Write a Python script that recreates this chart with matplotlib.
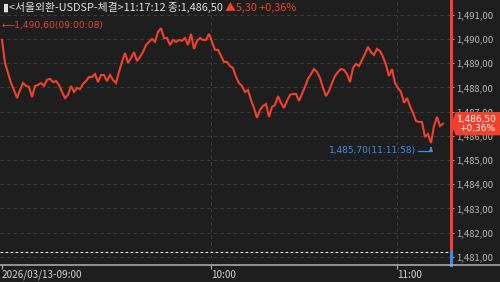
import numpy as np
import matplotlib
matplotlib.use("Agg")
import matplotlib.pyplot as plt
from matplotlib.lines import Line2D
from matplotlib.patches import Polygon

plt.rcParams['font.family'] = ['Noto Sans CJK KR', 'DejaVu Sans']

# USD/KRW ticks, sampled along the session (09:00 -> 11:17:12)
price = [1489.96, 1489.01, 1488.60, 1488.18, 1487.89, 1487.56, 1487.89, 1488.18, 1488.06, 1488.02,
         1487.60, 1488.06, 1488.10, 1488.18, 1488.06, 1488.31, 1488.35, 1488.22, 1488.26, 1488.10,
         1487.81, 1487.56, 1487.69, 1488.06, 1487.81, 1487.98, 1487.93, 1488.14, 1488.26, 1488.43,
         1488.43, 1488.55, 1488.22, 1488.51, 1488.51, 1488.26, 1488.51, 1488.31, 1488.18, 1488.64,
         1489.05, 1489.42, 1489.01, 1489.21, 1489.46, 1489.09, 1489.26, 1489.46, 1489.75, 1489.88,
         1490.00, 1489.88, 1490.29, 1490.45, 1490.04, 1490.04, 1489.75, 1489.96, 1489.88, 1489.96,
         1489.92, 1490.04, 1489.75, 1490.21, 1489.59, 1489.92, 1490.04, 1489.96, 1489.96, 1490.21,
         1489.88, 1489.55, 1489.55, 1489.30, 1489.05, 1489.05, 1488.88, 1488.80, 1488.43, 1488.18,
         1488.06, 1487.81, 1487.89, 1487.48, 1487.15, 1486.74, 1487.07, 1487.23, 1487.31, 1486.78,
         1487.19, 1487.27, 1487.64, 1487.36, 1487.15, 1487.44, 1487.69, 1487.73, 1487.73, 1487.44,
         1487.73, 1488.02, 1488.35, 1488.55, 1488.76, 1488.64, 1488.39, 1487.98, 1487.64, 1487.85,
         1488.18, 1488.47, 1488.64, 1488.76, 1488.72, 1488.55, 1488.22, 1488.80, 1488.97, 1488.88,
         1489.13, 1489.38, 1489.67, 1489.46, 1489.34, 1489.59, 1489.50, 1489.26, 1488.93, 1488.47,
         1488.76, 1488.18, 1487.98, 1487.81, 1487.36, 1487.56, 1487.23, 1486.94, 1486.61, 1486.57,
         1486.57, 1485.95, 1486.07, 1485.70, 1486.40, 1486.78, 1486.40, 1486.50]
time_labels = ['2026/03/13-09:00', '10:00', '11:00']
time_pos = [0, 69.8, 131.7]
yticks = [1481, 1482, 1483, 1484, 1485, 1486, 1487, 1488, 1489, 1490, 1491]
prev_close = 1481.20
low_label = '1,485,70(11:11:58)'
high_label = '1,490,60(09:00:08)'
last_label = '1,486,50\n+0,36%'
header = '▮<서울외환-USDSP-체결>11:17:12 종:1,486,50 '
header_chg = '▲5,30 +0,36%'

bg = '#1e1e1e'
red = '#f0412c'
blue = '#3c8ee6'
grey = '#b4b4b4'

def fmt(v):
    return f"{v:,.2f}".replace('.', ',')

fig = plt.figure(figsize=(5, 2.82), dpi=100)
fig.patch.set_facecolor(bg)
ax = fig.add_axes([0, 17/282, 451/500, 265/282])
ax.set_facecolor(bg)

x = np.arange(len(price))
ax.plot(x, price, color=red, lw=1.5, solid_joinstyle='miter')

ax.set_xlim(-0.67, 149.67)
ax.set_ylim(1480.66, 1491.61)

for v in yticks:
    ax.axhline(v, color='#3c3c3c', lw=0.8, ls=(0, (3, 3)), zorder=0)
for p in time_pos[1:]:
    ax.axvline(p, color='#3c3c3c', lw=0.8, ls=(0, (3, 3)), zorder=0)
ax.axhline(prev_close, color='#e8e8e8', lw=0.8, ls=(0, (2.5, 2)), zorder=1)

for s in ['top', 'left', 'bottom', 'right']:
    ax.spines[s].set_visible(False)

# right axis line: red above prev close, blue below
ax.plot([1, 1], [prev_close, 1491.61], transform=ax.get_yaxis_transform(), color=red, lw=2.2, clip_on=False)
ax.plot([1, 1], [1480.66, prev_close], transform=ax.get_yaxis_transform(), color=blue, lw=2.2, clip_on=False)

ax.yaxis.tick_right()
ax.set_yticks(yticks)
ax.set_yticklabels([fmt(v) for v in yticks], fontsize=6.8, color=grey)
ax.tick_params(axis='y', length=2, color=grey, pad=1.5, width=0.6)

ax.set_xticks(time_pos)
ax.set_xticklabels(time_labels, fontsize=7.2, color='#d0d0d0', ha='left')
ax.tick_params(axis='x', length=3, color=grey, pad=0.5, width=0.8)

fig.add_artist(Line2D([0, 1], [17/282, 17/282], color='#a8a8a8', lw=1.2))

# header
t = fig.text(0.006, 0.975, header, fontsize=7.8, color='#e0e0e0', va='center', ha='left')
fig.canvas.draw()
bb = t.get_window_extent()
fig.text(bb.x1 / 500, 0.975, header_chg, fontsize=7.8, color=red, va='center', ha='left')

fig.text(0.004, 0.91, '⟵' + high_label, fontsize=6.6, color='#d84a38', va='center', ha='left',
         family=['DejaVu Sans'])

# low marker annotation
low_idx = int(np.argmin(price))
ly = price[low_idx]
ax.annotate('', xy=(low_idx, ly - 0.05), xytext=(low_idx, ly - 0.32),
            arrowprops=dict(arrowstyle='-|>', color=blue, lw=0.9, mutation_scale=5))
ax.plot([low_idx - 4.4, low_idx], [ly - 0.32, ly - 0.32], color=blue, lw=0.9)
ax.text(low_idx - 5.0, ly - 0.32, low_label, fontsize=6.5, color=blue, ha='right', va='center',
        family=['DejaVu Sans'])

# last price box
yb = ax.transData.transform((0, price[-1]))[1] / 282
box = Polygon([[452/500, yb], [456/500, yb + 11/282], [500/500, yb + 11/282],
               [500/500, yb - 11/282], [456/500, yb - 11/282]],
              closed=True, transform=fig.transFigure, color=red, zorder=5)
fig.add_artist(box)
fig.text(477/500, yb, last_label, fontsize=6.5, color='white', ha='center', va='center',
         linespacing=1.0, zorder=6, family=['DejaVu Sans'])

fig.savefig('out.png', dpi=100, facecolor=bg)
